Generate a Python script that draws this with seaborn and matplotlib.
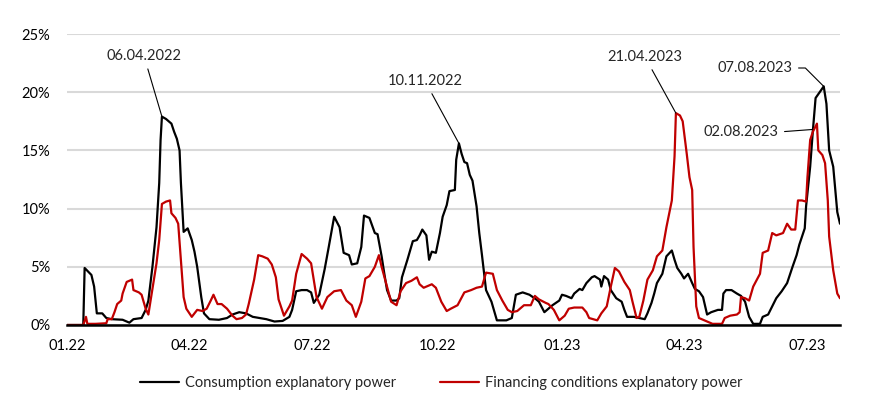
import pandas as pd
import matplotlib.pyplot as plt
import matplotlib.dates as mdates
from matplotlib.ticker import PercentFormatter
import seaborn as sns

# Values; days counted from 01.01.2022, values in percent
cons_days = [0, 12, 13, 18, 20, 22, 26, 29, 33, 41, 46, 49, 55, 58, 60, 63, 66, 68, 69, 70,
             73, 77, 79, 81, 83, 84, 86, 89, 92, 94, 96, 99, 101, 105, 112, 118, 122, 127, 132, 137,
             142, 147, 153, 159, 164, 166, 169, 173, 177, 180, 182, 186, 190, 193, 197, 201, 204, 208, 210, 214,
             217, 219, 223, 227, 229, 232, 234, 236, 239, 243, 245, 247, 251, 255, 258, 260, 262, 265, 267, 269,
             272, 275, 277, 280, 282, 286, 287, 289, 291, 293, 295, 297, 299, 302, 304, 306, 309, 313, 317, 324,
             328, 331, 336, 341, 346, 348, 352, 358, 363, 365, 368, 372, 374, 378, 380, 383, 387, 389, 393, 394,
             396, 399, 401, 405, 409, 411, 413, 418, 422, 426, 428, 431, 433, 435, 439, 442, 446, 448, 450, 453,
             455, 458, 461, 463, 466, 469, 472, 475, 480, 483, 484, 486, 490, 494, 497, 500, 503, 506, 511, 513,
             517, 520, 523, 527, 531, 533, 535, 538, 540, 544, 545, 548, 550, 552, 555, 558, 560, 562, 565, 568,
             570]
cons_vals = [0, 0, 4.9, 4.3, 3.3, 1.0, 1.0, 0.6, 0.5, 0.45, 0.2, 0.5, 0.6, 1.3, 2.1, 5.0, 8.4, 12.2, 15.9, 17.9,
             17.7, 17.3, 16.6, 16.0, 15.0, 12.2, 8.0, 8.3, 7.3, 6.3, 5.0, 2.4, 1.0, 0.5, 0.45, 0.6, 0.9, 1.1, 1.0, 0.7,
             0.6, 0.5, 0.3, 0.35, 0.7, 1.3, 2.9, 3.0, 3.0, 2.8, 1.9, 2.6, 4.8, 6.7, 9.3, 8.4, 6.2, 6.0, 5.2, 5.3,
             6.7, 9.4, 9.2, 7.9, 7.8, 5.9, 4.4, 3.0, 2.1, 2.1, 2.3, 4.1, 5.6, 7.2, 7.3, 7.7, 8.2, 7.7, 5.6, 6.3,
             6.2, 7.9, 9.3, 10.3, 11.5, 11.6, 14.2, 15.6, 14.7, 14.0, 13.9, 12.9, 12.4, 10.2, 7.9, 6.0, 3.0, 2.0, 0.4, 0.4,
             0.6, 2.6, 2.8, 2.6, 2.2, 2.0, 1.1, 1.7, 2.1, 2.6, 2.5, 2.3, 2.7, 3.1, 3.0, 3.6, 4.1, 4.2, 3.9, 3.3,
             4.2, 3.9, 3.0, 2.3, 2.0, 1.3, 0.7, 0.7, 0.6, 0.5, 1.0, 1.9, 2.7, 3.6, 4.4, 5.9, 6.4, 5.6, 4.9, 4.4,
             4.0, 4.4, 3.6, 3.1, 2.9, 2.4, 0.9, 1.1, 1.3, 1.3, 2.7, 3.0, 3.0, 2.7, 2.5, 2.0, 0.7, 0.1, 0.1, 0.7,
             0.9, 1.6, 2.3, 2.9, 3.6, 4.3, 5.0, 6.0, 6.9, 8.3, 10.2, 13.6, 16.7, 19.5, 20.0, 20.5, 19.0, 15.0, 13.6, 9.7,
             8.7]

fin_days = [0, 12, 14, 15, 21, 29, 30, 33, 35, 37, 40, 41, 44, 46, 48, 49, 53, 55, 58, 60,
            63, 66, 68, 70, 73, 76, 77, 80, 82, 84, 86, 88, 92, 94, 96, 100, 103, 106, 108, 111,
            114, 118, 122, 125, 129, 132, 134, 138, 141, 144, 148, 151, 154, 156, 160, 164, 166, 169, 173, 177,
            180, 184, 188, 192, 197, 202, 206, 210, 213, 217, 220, 223, 227, 230, 232, 236, 239, 243, 246, 250,
            254, 258, 260, 263, 269, 272, 276, 280, 283, 288, 293, 298, 302, 306, 309, 314, 317, 321, 325, 328,
            332, 337, 342, 345, 348, 353, 355, 359, 363, 367, 370, 374, 380, 383, 385, 391, 394, 398, 401, 404,
            407, 411, 415, 417, 420, 422, 425, 428, 432, 435, 439, 442, 446, 448, 449, 452, 454, 457, 459, 461,
            462, 464, 466, 472, 476, 483, 485, 489, 494, 496, 497, 500, 503, 506, 511, 513, 517, 520, 523, 528,
            531, 534, 537, 539, 542, 545, 546, 548, 550, 553, 554, 557, 559, 561, 562, 565, 568, 570]
fin_vals = [0, 0, 0.7, 0.1, 0.1, 0.15, 0.5, 0.5, 1.1, 1.8, 2.1, 2.7, 3.7, 3.8, 3.9, 3.0, 2.8, 2.6, 1.4, 0.9,
            3.1, 5.3, 7.3, 10.4, 10.6, 10.7, 9.6, 9.2, 8.7, 5.6, 2.4, 1.4, 0.7, 1.0, 1.3, 1.2, 1.4, 2.1, 2.6, 1.8,
            1.8, 1.4, 0.8, 0.5, 0.6, 0.9, 1.8, 3.9, 6.0, 5.9, 5.7, 5.2, 4.1, 2.2, 0.8, 1.6, 2.1, 4.4, 6.1, 5.7,
            5.3, 2.4, 1.4, 2.4, 2.9, 3.0, 2.1, 1.7, 0.7, 2.0, 4.0, 4.2, 5.0, 6.0, 5.0, 3.3, 2.0, 1.7, 2.9, 3.6,
            3.8, 4.1, 3.5, 3.2, 3.5, 3.2, 2.0, 1.2, 1.4, 1.7, 2.8, 3.0, 3.2, 3.3, 4.5, 4.4, 3.0, 2.1, 1.3, 1.1,
            1.2, 1.7, 1.7, 2.5, 2.2, 1.9, 1.8, 1.3, 0.4, 0.8, 1.4, 1.5, 1.5, 1.1, 0.6, 0.4, 1.0, 1.6, 3.3, 4.9,
            4.6, 3.7, 3.0, 2.0, 0.6, 0.7, 2.1, 3.9, 4.7, 5.9, 6.4, 8.4, 10.7, 14.5, 18.2, 18.0, 17.5, 14.7, 12.7, 11.6,
            6.7, 1.6, 0.6, 0.3, 0.1, 0.1, 0.6, 0.8, 0.9, 1.1, 2.4, 2.3, 2.1, 3.3, 4.4, 6.2, 6.4, 7.9, 7.7, 7.9,
            8.7, 8.2, 8.2, 10.7, 10.7, 10.6, 12.7, 15.9, 16.6, 17.3, 15.0, 14.6, 13.9, 10.7, 7.6, 4.7, 2.7, 2.3]

series_names = ['Consumption explanatory power', 'Financing conditions explanatory power']
series_colors = ['#000000', '#C00000']
tick_dates = ['2022-01-01', '2022-04-01', '2022-07-01', '2022-10-01',
              '2023-01-01', '2023-04-01', '2023-07-01']
tick_labels = ['01.22', '04.22', '07.22', '10.22', '01.23', '04.23', '07.23']

start = pd.Timestamp('2022-01-01')
df = pd.concat([
    pd.DataFrame({'date': start + pd.to_timedelta(cons_days, unit='D'), 'value': cons_vals,
                  'series': series_names[0]}),
    pd.DataFrame({'date': start + pd.to_timedelta(fin_days, unit='D'), 'value': fin_vals,
                  'series': series_names[1]}),
])

sns.set_style('white')
plt.rcParams['font.family'] = ['Lato', 'DejaVu Sans']

fig = plt.figure(figsize=(8.75, 4.2), dpi=100)
ax = fig.add_axes([67 / 875, 1 - 325 / 420, (840 - 67) / 875, (325 - 34) / 420])

sns.lineplot(data=df, x='date', y='value', hue='series', palette=series_colors,
             estimator=None, sort=False, linewidth=1.6, ax=ax)

ax.set_ylim(0, 25)
ax.set_yticks([0, 5, 10, 15, 20, 25])
ax.yaxis.set_major_formatter(PercentFormatter(decimals=0))
ax.set_xlim(start, start + pd.Timedelta(days=570))
ax.set_xticks(pd.to_datetime(tick_dates))
ax.set_xticklabels(tick_labels)
ax.grid(axis='y', color='#d9d9d9', linewidth=1.5)
ax.set_axisbelow(True)
for s in ['top', 'right', 'left']:
    ax.spines[s].set_visible(False)
ax.spines['bottom'].set_color('black')
ax.spines['bottom'].set_linewidth(1.8)
ax.spines['bottom'].set_zorder(5)
ax.tick_params(axis='both', length=0, labelsize=10.5, colors='black')
ax.tick_params(axis='y', pad=12)
ax.tick_params(axis='x', pad=10)
ax.set_xlabel('')
ax.set_ylabel('')

# annotations with thin leader lines
def note(label, day, val, tx, ty, **kw):
    ax.annotate(label, xy=(start + pd.Timedelta(days=day), val), xytext=(tx, 420 - ty),
                textcoords='figure pixels', ha='center', va='center', fontsize=10.5,
                arrowprops=dict(arrowstyle='-', color='black', lw=0.8, shrinkA=2, shrinkB=0, **kw))

note('06.04.2022', 70, 17.9, 144, 56)
note('10.11.2022', 289, 15.6, 425, 81)
note('21.04.2023', 449, 18.2, 645, 57)
note('07.08.2023', 558, 20.5, 755, 68, relpos=(1, 0.5),
     connectionstyle='angle,angleA=0,angleB=135,rad=0')
note('02.08.2023', 550, 16.8, 741, 132, relpos=(1, 0.5))

handles, labels = ax.get_legend_handles_labels()
ax.legend(handles, labels, loc='center', bbox_to_anchor=(0.504, 0.088),
          bbox_transform=fig.transFigure, ncol=2, frameon=False, fontsize=10.5,
          handlelength=2.7, columnspacing=3.0, handletextpad=0.4)

fig.savefig('out.png', dpi=100)
